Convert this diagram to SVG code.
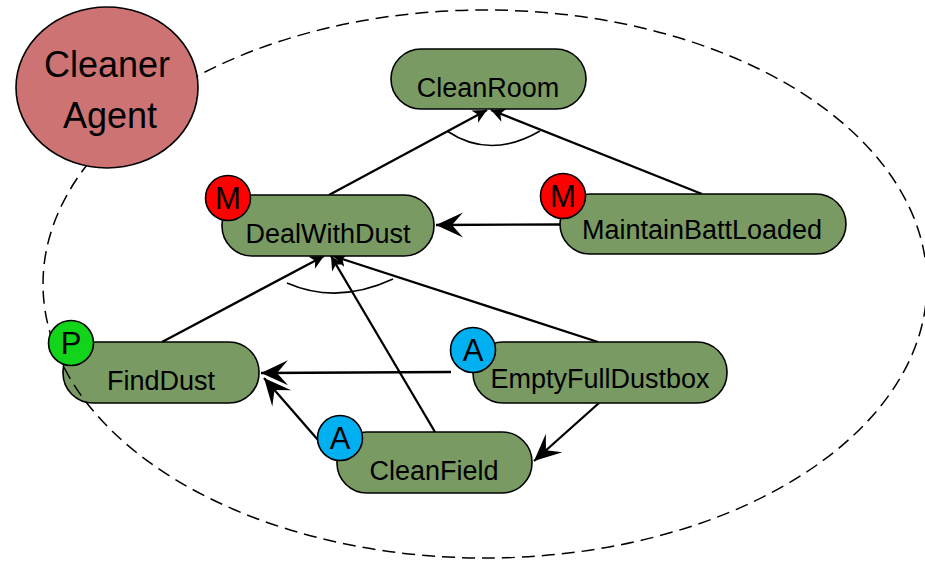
<svg xmlns="http://www.w3.org/2000/svg" width="925" height="561" viewBox="0 0 925 561">
<style>
.node{fill:#799A62;stroke:#000;stroke-width:1.6}
.lbl{font-family:"Liberation Sans",Arial,sans-serif;font-size:27px;fill:#000;text-anchor:middle}
.badge{stroke:#000;stroke-width:1.6}
.bl{font-family:"Liberation Sans",Arial,sans-serif;font-size:31px;fill:#000;text-anchor:middle}
.edge{stroke:#000;stroke-width:2.3;fill:none}
.arc{stroke:#000;stroke-width:1.6;fill:none}
</style>
<defs>
<marker id="big" markerUnits="userSpaceOnUse" markerWidth="32" markerHeight="32" viewBox="-30 -15 32 30" refX="0" refY="0" orient="auto">
<path d="M0,0 L-27,-12.5 L-16,0 L-27,12.5 Z" fill="#000"/>
</marker>
<marker id="small" markerUnits="userSpaceOnUse" markerWidth="16" markerHeight="16" viewBox="-15 -8 16 16" refX="0" refY="0" orient="auto">
<path d="M0,0 L-14,-7 L-10,0 L-14,7 Z" fill="#000"/>
</marker>
</defs>
<rect width="925" height="561" fill="#fff"/>
<g id="connectors">
<line class="edge" x1="329" y1="195" x2="487" y2="110" marker-end="url(#small)"/>
<line class="edge" x1="702" y1="194" x2="491" y2="110" marker-end="url(#small)"/>
<path class="arc" d="M447,131 Q490,160 540,131"/>
<line class="edge" x1="560" y1="224.5" x2="436" y2="225" marker-end="url(#big)"/>
<line class="edge" x1="162" y1="342" x2="324" y2="256" marker-end="url(#small)"/>
<line class="edge" x1="598" y1="342" x2="333" y2="256" marker-end="url(#small)"/>
<line class="edge" x1="435" y1="432" x2="331" y2="256" marker-end="url(#small)"/>
<path class="arc" d="M287,283 Q337,305 393,279"/>
<line class="edge" x1="451" y1="372" x2="261" y2="373" marker-end="url(#big)"/>
<line class="edge" x1="318" y1="440" x2="264" y2="378" marker-end="url(#big)"/>
<line class="edge" x1="599" y1="403" x2="534" y2="461" marker-end="url(#big)"/>
</g>
<g id="CleanRoom">
<rect class="node" x="391" y="49" width="195" height="60" rx="30"/>
<text class="lbl" x="488" y="97">CleanRoom</text>
</g>
<g id="DealWithDust">
<rect class="node" x="222" y="195" width="212" height="61" rx="30"/>
<text class="lbl" x="328" y="243">DealWithDust</text>
</g>
<g id="MaintainBattLoaded">
<rect class="node" x="560" y="194" width="286" height="60" rx="30"/>
<text class="lbl" x="702" y="239">MaintainBattLoaded</text>
</g>
<g id="FindDust">
<rect class="node" x="63" y="342" width="196" height="61" rx="30"/>
<text class="lbl" x="161" y="390">FindDust</text>
</g>
<g id="EmptyFullDustbox">
<rect class="node" x="473" y="342" width="254" height="61" rx="30"/>
<text class="lbl" x="600" y="388">EmptyFullDustbox</text>
</g>
<g id="CleanField">
<rect class="node" x="337" y="432" width="195" height="61" rx="30"/>
<text class="lbl" x="434" y="480">CleanField</text>
</g>
<g id="boundary">
<ellipse cx="485" cy="284" rx="442" ry="274" fill="none" stroke="#000" stroke-width="1.5" stroke-dasharray="13 7"/>
</g>
<g id="badges">
<g id="badge-DealWithDust"><circle class="badge" cx="228" cy="198" r="22.5" fill="#FF0000"/><text class="bl" x="228" y="209">M</text></g>
<g id="badge-MaintainBattLoaded"><circle class="badge" cx="563" cy="196" r="22.5" fill="#FF0000"/><text class="bl" x="563" y="207">M</text></g>
<g id="badge-FindDust"><circle class="badge" cx="71" cy="343" r="22.5" fill="#12D41A"/><text class="bl" x="71" y="354">P</text></g>
<g id="badge-EmptyFullDustbox"><circle class="badge" cx="473" cy="350" r="22.5" fill="#00B0F0"/><text class="bl" x="473" y="361">A</text></g>
<g id="badge-CleanField"><circle class="badge" cx="340" cy="438" r="22.5" fill="#00B0F0"/><text class="bl" x="340" y="449">A</text></g>
</g>
<g id="CleanerAgent">
<ellipse cx="107" cy="87.5" rx="91" ry="80.5" fill="#CD7373" stroke="#000" stroke-width="1.6"/>
<text class="lbl" x="107" y="77" style="font-size:36px">Cleaner</text>
<text class="lbl" x="110" y="128" style="font-size:36px">Agent</text>
</g>
</svg>
